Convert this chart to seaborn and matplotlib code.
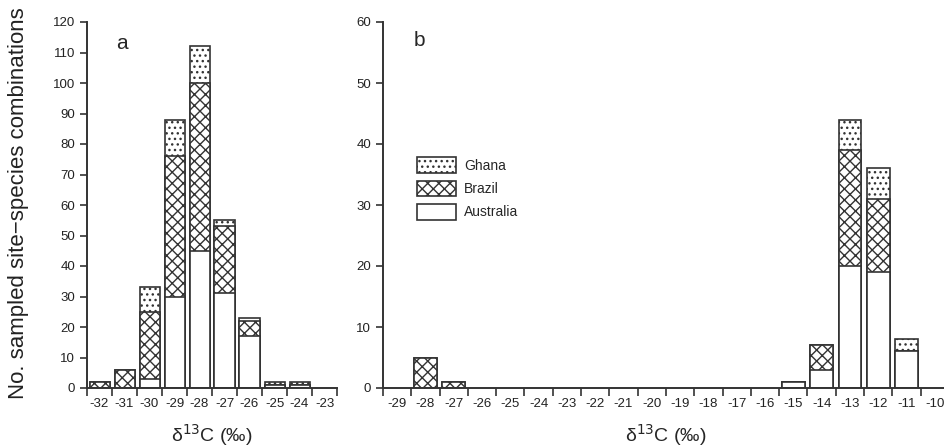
import matplotlib
matplotlib.use("Agg")
import matplotlib.pyplot as plt
from matplotlib.patches import Patch
import seaborn as sns
import numpy as np
import pandas as pd

# ---- data (counts) ----
cats_a = [-32, -31, -30, -29, -28, -27, -26, -25, -24, -23]
aus_a = [0, 0, 3, 30, 45, 31, 17, 1, 1, 0]
bra_a = [2, 6, 22, 46, 55, 22, 5, 0, 0, 0]
gha_a = [0, 0, 8, 12, 12, 2, 1, 1, 1, 0]

cats_b = list(range(-29, -9))
aus_b = [0, 0, 0, 0, 0, 0, 0, 0, 0, 0, 0, 0, 0, 0, 1, 3, 20, 19, 6, 0]
bra_b = [0, 5, 1, 0, 0, 0, 0, 0, 0, 0, 0, 0, 0, 0, 0, 4, 19, 12, 0, 0]
gha_b = [0, 0, 0, 0, 0, 0, 0, 0, 0, 0, 0, 0, 0, 0, 0, 0, 5, 5, 2, 0]

series = ["Ghana", "Brazil", "Australia"]

sns.set_theme(style="ticks")
plt.rcParams["font.family"] = ["Liberation Sans", "DejaVu Sans"]
plt.rcParams["hatch.linewidth"] = 1.0
plt.rcParams["axes.edgecolor"] = "#333333"
plt.rcParams["axes.linewidth"] = 1.4

EC = "#333333"
H_DOT = "..."
H_X = "xxx"
fig = plt.figure(figsize=(9.45, 4.47), dpi=100)
W, H = 945, 447
y0, y1 = 388, 22
ax_a = fig.add_axes([87 / W, 1 - y0 / H, 250 / W, (y0 - y1) / H])
ax_b = fig.add_axes([383 / W, 1 - y0 / H, 566 / W, (y0 - y1) / H])


def draw(ax, cats, aus, bra, gha, ymax):
    labels = [str(c) for c in cats]
    aus = np.array(aus)
    bra = np.array(bra)
    gha = np.array(gha)
    layers = [
        (aus + bra + gha, H_DOT),
        (aus + bra, H_X),
        (aus, ""),
    ]
    for vals, hatch in layers:
        df = pd.DataFrame({"c": labels, "v": vals})
        df = df[df["v"] > 0]
        sns.barplot(data=df, x="c", y="v", order=labels, ax=ax, width=0.8,
                    color="white", edgecolor=EC, linewidth=1.2, hatch=hatch,
                    errorbar=None, saturation=1)
    n = len(cats)
    ax.set_xlim(-0.5, n - 0.5)
    ax.set_ylim(0, ymax)
    ax.set_xlabel("δ$^{13}$C (‰)", fontsize=14, labelpad=9)
    ax.set_ylabel("")
    ax.set_xticks(range(n))
    ax.set_xticklabels(labels, fontsize=9.5)
    ax.set_xticks(np.arange(-0.5, n, 1.0), minor=True)
    ax.tick_params(axis="x", which="major", length=0, pad=7, colors="#222222")
    ax.tick_params(axis="x", which="minor", length=6, width=1.2, color=EC, direction="out")
    ax.set_yticks(np.arange(0, ymax + 1, 10))
    ax.tick_params(axis="y", length=5, width=1.2, labelsize=9.5, color=EC,
                   direction="out", labelcolor="#222222")
    sns.despine(ax=ax)


draw(ax_a, cats_a, aus_a, bra_a, gha_a, 120)
draw(ax_b, cats_b, aus_b, bra_b, gha_b, 60)

ax_a.text(0.14, 0.94, "a", transform=ax_a.transAxes, fontsize=15, va="center", ha="center")
ax_b.text(0.065, 0.95, "b", transform=ax_b.transAxes, fontsize=15, va="center", ha="center")

handles = [Patch(facecolor="white", edgecolor=EC, hatch=h, linewidth=1.2, label=l)
           for h, l in zip([H_DOT, H_X, ""], series)]
ax_b.legend(handles=handles, loc="upper left", bbox_to_anchor=(0.05, 0.645),
            frameon=False, fontsize=10, handlelength=2.8, handleheight=1.35,
            handletextpad=0.6, labelspacing=0.55, borderaxespad=0)

fig.text(19 / W, 1 - 203 / H, "No. sampled site−species combinations",
         rotation=90, ha="center", va="center", fontsize=16, color="#222222")

fig.savefig("out.png", dpi=100)
